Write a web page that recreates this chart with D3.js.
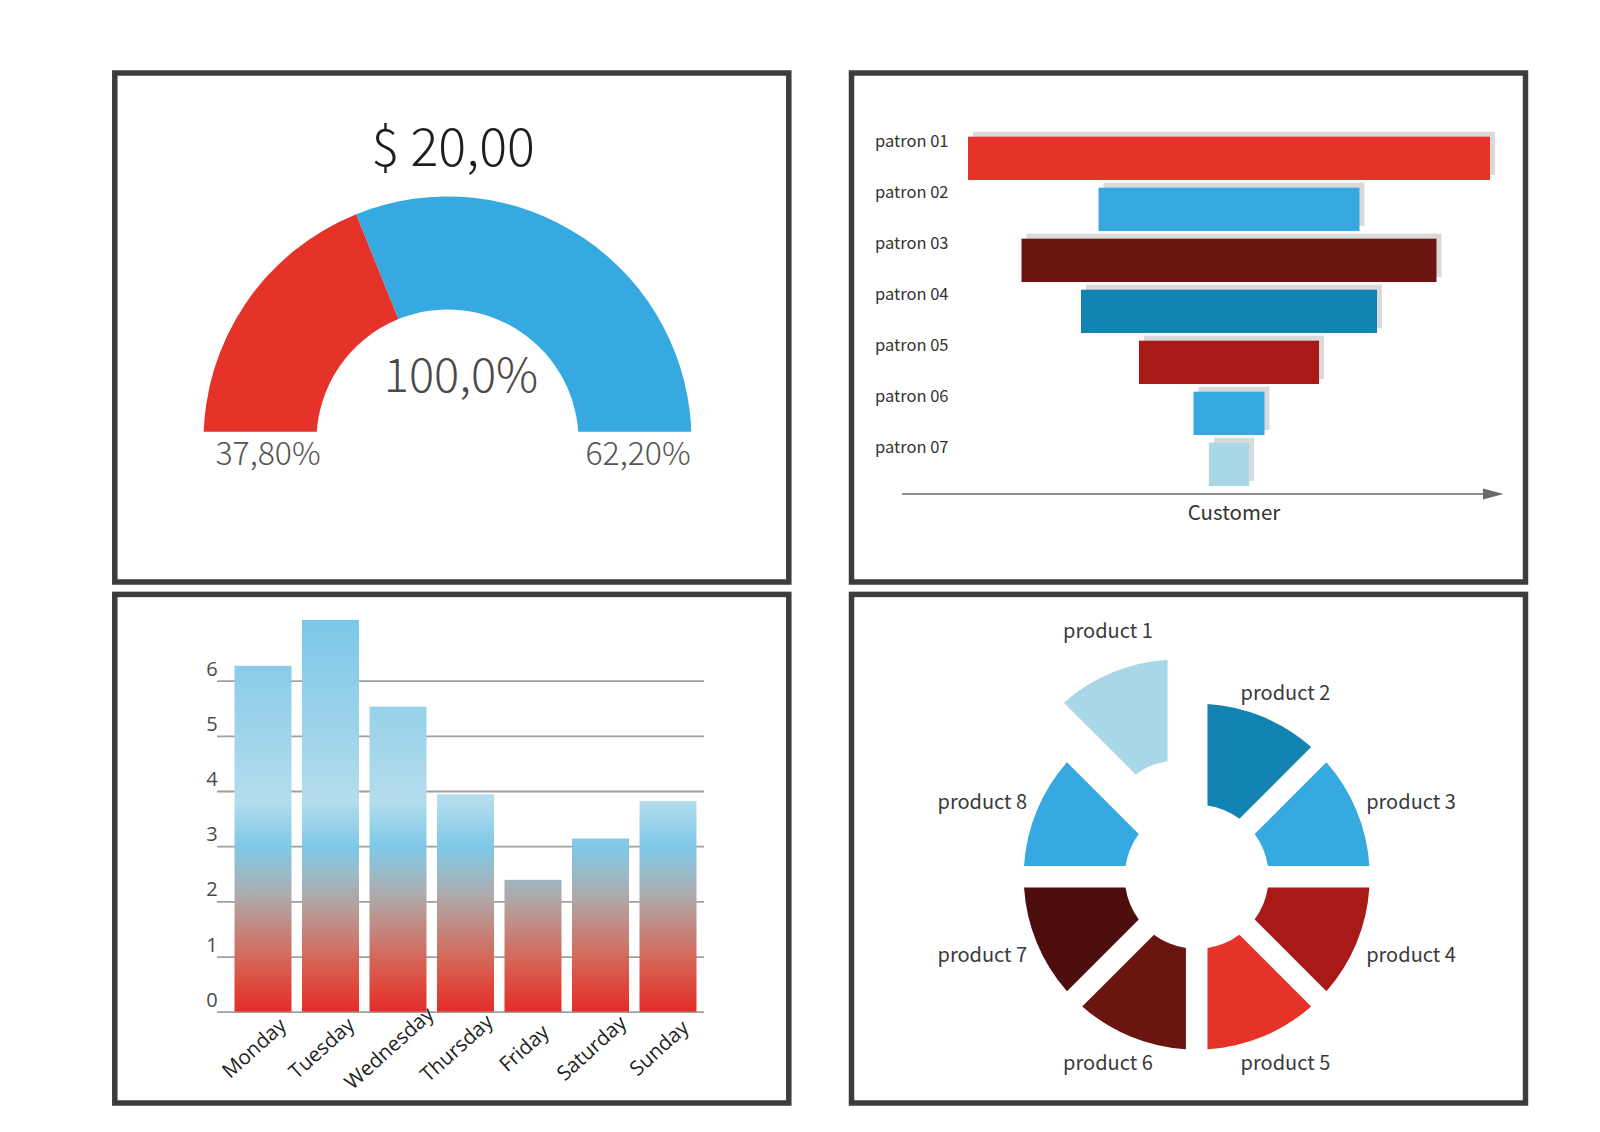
<!DOCTYPE html>
<html><head><meta charset="utf-8">
<script src="https://cdn.jsdelivr.net/npm/d3@7"></script>
<style>body{margin:0;background:#fff}svg{display:block}</style>
</head><body><svg id="c" width="1600" height="1132"></svg>
<script>
// ---------- data ----------
const gaugeValues = [37.8, 62.2];
const gaugeLabels = ["37,80%", "62,20%"];
const gaugeTitle = "$ 20,00";
const gaugeTotal = "100,0%";

const patrons = ["patron 01","patron 02","patron 03","patron 04","patron 05","patron 06","patron 07"];
const patronValues = [100, 50, 79.5, 56.7, 34.5, 13.6, 7.7];
const funnelAxisLabel = "Customer";

const days = ["Monday","Tuesday","Wednesday","Thursday","Friday","Saturday","Sunday"];
const dayValues = [6.27, 7.1, 5.53, 3.94, 2.39, 3.14, 3.82];
const yTicks = [0, 1, 2, 3, 4, 5, 6];

const products = ["product 1","product 2","product 3","product 4","product 5","product 6","product 7","product 8"];
const productValues = [1, 1, 1, 1, 1, 1, 1, 1];
const explodedProducts = ["product 1"];

// ---------- styles ----------
const gaugeColors = ["#E5332A", "#36A9E0"];
const funnelColors = ["#E5332A", "#36A9E0", "#6B1510", "#1383B1", "#A71A18", "#36A9E0", "#A8D8E8"];
const productColors = ["#A8D8E8", "#1383B1", "#36A9E0", "#A71A18", "#E5332A", "#6B1510", "#4E0E0E", "#36A9E0"];
const jp = "'Noto Sans CJK JP','Noto Sans',sans-serif";
const os = "'Open Sans','Noto Sans',sans-serif";

const svg = d3.select("#c");
svg.append("rect").attr("width",1600).attr("height",1132).attr("fill","#fff");
const defs = svg.append("defs");

// ---------- frames ----------
const frames = [[114.8,73,788.8,582],[851.5,73,1525.5,582],[114.8,594.4,788.8,1103],[851.5,594.4,1525.5,1103]];
svg.append("g").selectAll("rect").data(frames).join("rect")
  .attr("x",d=>d[0]).attr("y",d=>d[1]).attr("width",d=>d[2]-d[0]).attr("height",d=>d[3]-d[1])
  .attr("fill","#fff").attr("stroke","#3c3c3c").attr("stroke-width",5.5);

// ---------- gauge ----------
const gCx = 447.5, gCy = 440.5, gBase = 431.7;
defs.append("clipPath").attr("id","gclip").append("rect")
  .attr("x",150).attr("y",150).attr("width",600).attr("height",gBase-150);
const gaugePie = d3.pie().sort(null).startAngle(-Math.PI/2).endAngle(Math.PI/2);
const gaugeArc = d3.arc().innerRadius(131).outerRadius(244);
svg.append("g").attr("clip-path","url(#gclip)")
  .append("g").attr("transform",`translate(${gCx},${gCy})`)
  .selectAll("path").data(gaugePie(gaugeValues)).join("path")
  .attr("d",gaugeArc).attr("fill",(d,i)=>gaugeColors[i]);

svg.append("text").attr("x",453).attr("y",165.7).attr("text-anchor","middle")
  .style("font-family",jp).style("font-weight",300).style("font-size","52px").attr("fill","#1e1e1e")
  .text(gaugeTitle);
svg.append("text").attr("x",461).attr("y",391.7).attr("text-anchor","middle")
  .style("font-family",jp).style("font-weight",300).style("font-size","47px").attr("fill","#4a4a4a")
  .text(gaugeTotal);
svg.append("g").selectAll("text").data(gaugeLabels).join("text")
  .attr("x",(d,i)=> gCx + (i===0?-1:1)*187.5 + (i===0?8:3)).attr("y",465)
  .attr("text-anchor","middle")
  .style("font-family",jp).style("font-weight",300).style("font-size","32px").attr("fill","#555")
  .text(d=>d);

// ---------- funnel ----------
const fx = d3.scaleLinear().domain([0,100]).range([0,522]);
const fy = d3.scaleBand().domain(patrons).range([132.85, 489.85]).paddingInner(0.15).paddingOuter(0.075);
const fCx = 1229;
const fg = svg.append("g");
fg.selectAll("rect.sh").data(patrons).join("rect").attr("class","sh")
  .attr("x",(d,i)=>fCx - fx(patronValues[i])/2 + 5).attr("y",d=>fy(d)-5)
  .attr("width",(d,i)=>fx(patronValues[i])).attr("height",fy.bandwidth()).attr("fill","#dadada");
fg.selectAll("rect.bar").data(patrons).join("rect").attr("class","bar")
  .attr("x",(d,i)=>fCx - fx(patronValues[i])/2).attr("y",d=>fy(d))
  .attr("width",(d,i)=>fx(patronValues[i])).attr("height",fy.bandwidth()).attr("fill",(d,i)=>funnelColors[i]);
fg.selectAll("text.lab").data(patrons).join("text").attr("class","lab")
  .attr("x",875).attr("y",d=>fy(d)+10.5)
  .style("font-family",jp).style("font-size","16.5px").attr("fill","#333").text(d=>d);
fg.append("line").attr("x1",902).attr("x2",1486).attr("y1",494).attr("y2",494)
  .attr("stroke","#6a6a6a").attr("stroke-width",1.5);
fg.append("path").attr("d","M1483,488.5L1503.5,494L1483,499.5Z").attr("fill","#6a6a6a");
fg.append("text").attr("x",1234).attr("y",520).attr("text-anchor","middle")
  .style("font-family",jp).style("font-size","20.5px").attr("fill","#333").text(funnelAxisLabel);

// ---------- bar chart ----------
const by = d3.scaleLinear().domain([0,7]).range([1011.7, 1011.7 - 7*55.17]);
const bx = d3.scaleBand().domain(days).range([229.25, 701.75]).paddingInner(0.1556).paddingOuter(0.0778);
const grad = defs.append("linearGradient").attr("id","barGrad").attr("gradientUnits","userSpaceOnUse")
  .attr("x1",0).attr("x2",0).attr("y1",by(0)).attr("y2",by(7.1));
[[0,"#E32D2A"],[0.07,"#DE4A3E"],[0.14,"#D4695A"],[0.28,"#B2A4A3"],[0.36,"#98BCCC"],[0.42,"#7EC8E8"],
 [0.54,"#B4DDED"],[0.75,"#9AD2EA"],[1,"#7CC7E8"]].forEach(s=>grad.append("stop").attr("offset",s[0]).attr("stop-color",s[1]));

const yAxis = svg.append("g").attr("transform","translate(217,0)")
  .call(d3.axisLeft(by).tickValues(yTicks).tickSize(-487).tickFormat(d3.format("d")));
yAxis.select(".domain").remove();
yAxis.selectAll(".tick line").attr("stroke","#a0a0a0").attr("stroke-width",1.8);
yAxis.selectAll(".tick text").attr("x",-5).attr("y",-5.5).attr("dy",null).attr("text-anchor","middle")
  .style("font-family",os).style("font-size","20px").attr("fill","#4a4a4a");

svg.append("g").selectAll("rect").data(days).join("rect")
  .attr("x",d=>bx(d)).attr("width",bx.bandwidth())
  .attr("y",(d,i)=>by(dayValues[i])).attr("height",(d,i)=>by(0)-by(dayValues[i]))
  .attr("fill","url(#barGrad)");

const xAxis = svg.append("g").attr("transform",`translate(0,${by(0)})`)
  .call(d3.axisBottom(bx).tickSize(0));
xAxis.select(".domain").remove();
xAxis.selectAll(".tick text").attr("y",0).attr("dy","0.35em").attr("text-anchor","middle")
  .attr("transform","translate(-9,36.3) rotate(-42)")
  .style("font-family",os).style("font-size","20.5px").attr("fill","#222");

// ---------- donut ----------
const dCx = 1196.7, dCy = 876.7;
const dPie = d3.pie().sort(null).startAngle(-Math.PI/4).endAngle(2*Math.PI - Math.PI/4).padAngle(0.216);
const dArc = d3.arc().innerRadius(72).outerRadius(173).padRadius(100);
const slices = dPie(productValues).map((s,i)=>{
  const mid = (s.startAngle + s.endAngle)/2;
  const ex = explodedProducts.includes(products[i]) ? 48 : 0;
  return Object.assign(s,{name:products[i], mid, tx: ex*Math.sin(mid), ty: -ex*Math.cos(mid)});
});
const dg = svg.append("g").attr("transform",`translate(${dCx},${dCy})`);
dg.selectAll("path").data(slices).join("path")
  .attr("transform",d=>`translate(${d.tx},${d.ty})`)
  .attr("d",dArc).attr("fill",(d,i)=>productColors[i]);
dg.selectAll("text").data(slices).join("text")
  .attr("x",d=>232*Math.sin(d.mid))
  .attr("y",d=>-200*Math.cos(d.mid) + d.ty*1.4)
  .attr("text-anchor","middle").attr("dominant-baseline","central")
  .style("font-family",jp).style("font-size","20px").attr("fill","#3a3a3a")
  .text(d=>d.name);
</script></body></html>
